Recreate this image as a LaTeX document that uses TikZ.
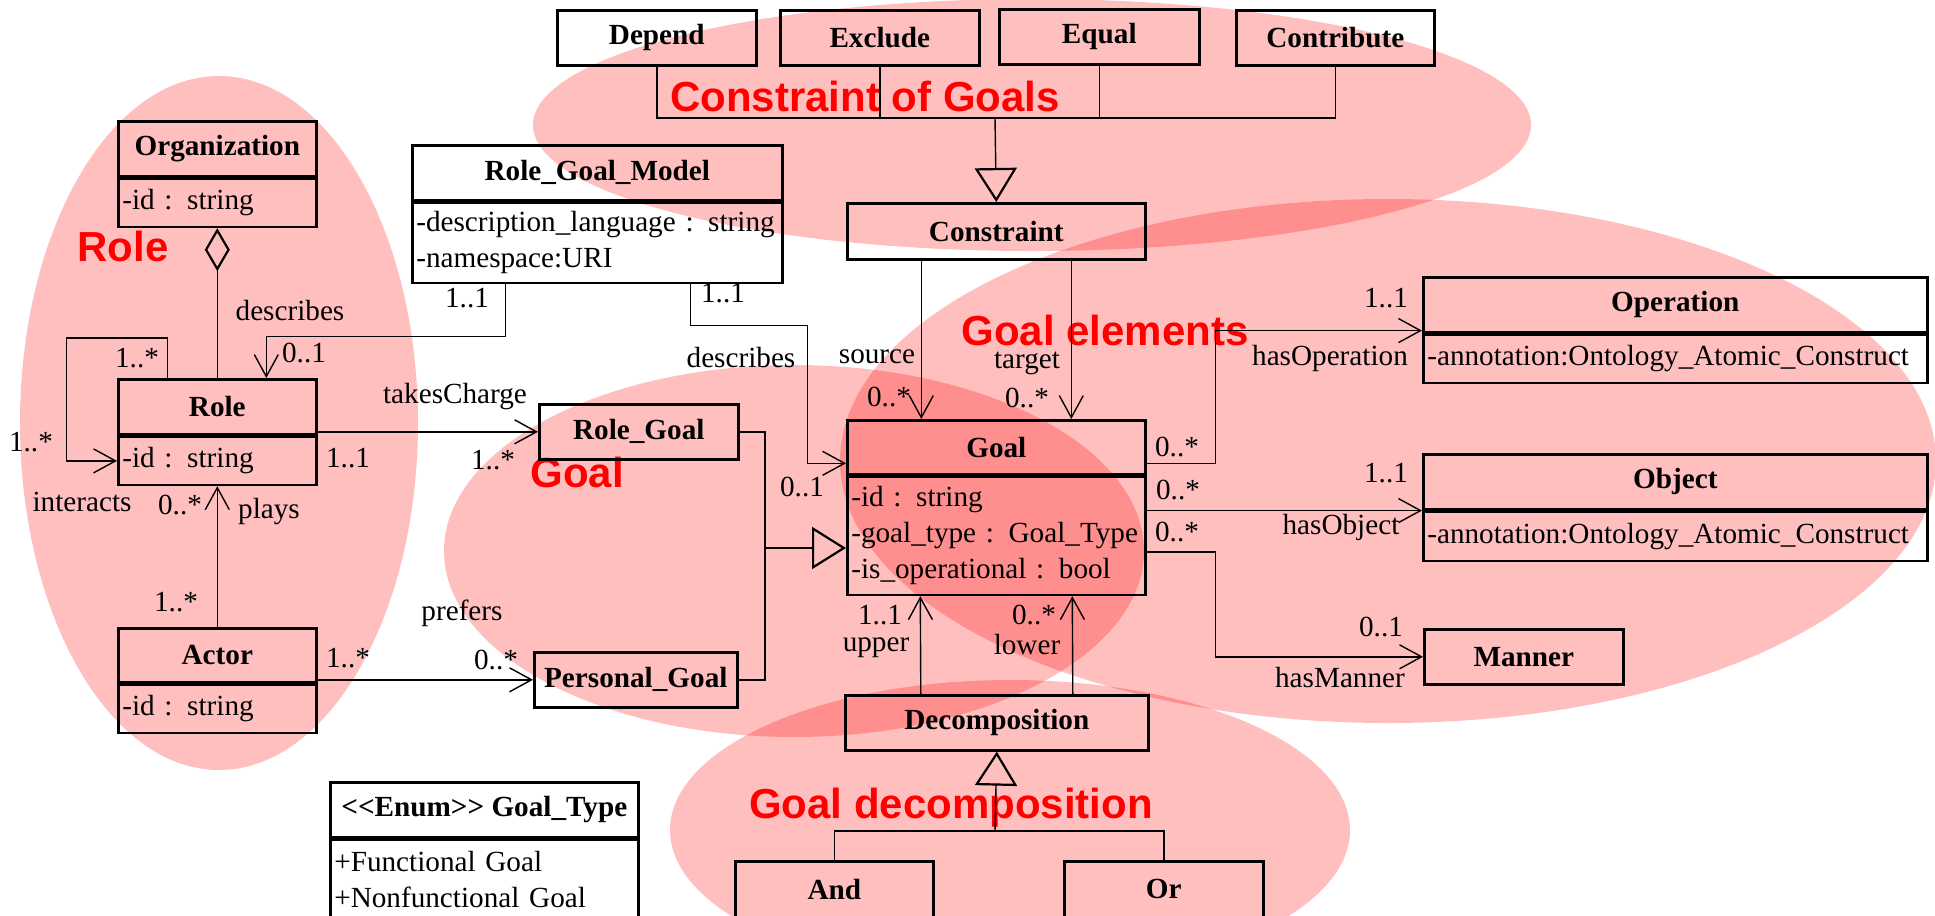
\documentclass[tikz,border=0pt]{standalone}
\usepackage{fontspec}
\setmainfont{Liberation Serif}
\newfontfamily\umlfont{Liberation Serif}
\newfontfamily\zonefont{Liberation Sans}
\usetikzlibrary{positioning,arrows.meta}

\begin{document}
\begin{tikzpicture}[x=0.5pt, y=-0.5pt,
  font=\umlfont\fontsize{14.6}{18}\selectfont,
  zone/.style={fill=red, fill opacity=0.25},
  zonelabel/.style={text=red, inner sep=0pt, font=\zonefont\bfseries\fontsize{21}{24}\selectfont},
  classbox/.style={draw, line width=1.3pt, inner xsep=2pt, inner ysep=0pt, minimum height=27.5pt, font=\umlfont\fontsize{14.6}{18}\selectfont\bfseries},
  attrbox/.style={draw, line width=1.3pt, inner xsep=2pt, inner ysep=0pt, align=left},
  lbl/.style={inner sep=0pt},
  conn/.style={line width=0.7pt},
  assoc/.style={conn, -{Straight Barb[length=11pt,width=12pt]}},
  gen/.style={conn, -{Triangle[open,length=17pt,width=21pt,line width=1.1pt]}},
  aggr/.style={conn, {Diamond[open,length=21.5pt,width=12.5pt,line width=1.1pt]}-}]
\useasboundingbox (0,0) rectangle (1935,916);

% Zones
\fill[zone] (219,423) ellipse [x radius=99.5pt, y radius=173.5pt];
\fill[zone] (1032,125) ellipse [x radius=249.5pt, y radius=63pt];
\fill[zone] (1388,461) ellipse [x radius=274pt, y radius=131pt];
\fill[zone] (794,551) ellipse [x radius=175pt, y radius=93pt];
\fill[zone] (1010,830) ellipse [x radius=170pt, y radius=75pt];
\node[zonelabel] (zrole) at (123,246) {Role};
\node[zonelabel] (zconstraint) at (865,96) {Constraint of Goals};
\node[zonelabel] (zelements) at (1105,330) {Goal elements};
\node[zonelabel] (zgoal) at (577,472) {Goal};
\node[zonelabel] (zdecomp) at (951,808) {Goal decomposition};

% Role part
\node[classbox, anchor=north west, minimum width=99pt] (org) at (117,120) {Organization};
\node[attrbox, below=0pt of org, text width=95pt, minimum height=24pt] (org-attr) {-id : string};
\node[classbox, anchor=north west, minimum width=99pt] (role) at (117,378) {Role};
\node[attrbox, below=0pt of role, text width=95pt, minimum height=24pt] (role-attr) {-id : string};
\node[classbox, anchor=north west, minimum width=99pt, minimum height=27pt] (actor) at (117,627) {Actor};
\node[attrbox, below=0pt of actor, text width=95pt, minimum height=24pt] (actor-attr) {-id : string};
\node[classbox, anchor=north west, minimum width=185pt] (rgm) at (411,144) {Role\_Goal\_Model};
\node[attrbox, below=0pt of rgm, text width=181pt, minimum height=40pt] (rgm-attr) {-description\_language : string\\-namespace:URI};
\node[classbox, anchor=north west, minimum width=154pt] (gtype) at (329,781) {\textless\kern0pt\textless Enum\textgreater\kern0pt\textgreater{} Goal\_Type};
\node[attrbox, below=0pt of gtype, text width=150pt, minimum height=39.5pt] (gtype-attr) {+Functional Goal\\+Nonfunctional Goal};

% Goal part
\node[classbox, anchor=north west, minimum width=99.5pt] (rolegoal) at (538,403) {Role\_Goal};
\node[classbox, anchor=north west, minimum width=101.5pt] (personalgoal) at (533,651) {Personal\_Goal};
\node[classbox, anchor=north west, minimum width=149pt, minimum height=27pt] (goal) at (846,419) {Goal};
\node[attrbox, below=0pt of goal, text width=145pt, minimum height=59pt] (goal-attr) {-id : string\\-goal\_type : Goal\_Type\\-is\_operational : bool};

% Constraint part
\node[classbox, anchor=north west, minimum width=99.5pt] (depend) at (556,9) {Depend};
\node[classbox, anchor=north west, minimum width=99.5pt] (exclude) at (779,9) {Exclude};
\node[classbox, anchor=north west, minimum width=100pt] (equal) at (998,8) {Equal};
\node[classbox, anchor=north west, minimum width=99pt] (contribute) at (1235,9) {Contribute};
\node[classbox, anchor=north west, minimum width=149pt, minimum height=28pt] (constraint) at (846,202) {Constraint};

% Goal elements
\node[classbox, anchor=north west, minimum width=252pt] (operation) at (1422,276) {Operation};
\node[attrbox, below=0pt of operation, text width=248pt, minimum height=24pt] (operation-attr) {-annotation:Ontology\_Atomic\_Construct};
\node[classbox, anchor=north west, minimum width=252pt] (object) at (1422,453) {Object};
\node[attrbox, below=0pt of object, text width=248pt, minimum height=24.5pt] (object-attr) {-annotation:Ontology\_Atomic\_Construct};
\node[classbox, anchor=north west, minimum width=99.5pt] (manner) at (1423,628) {Manner};

% Decomposition
\node[classbox, anchor=north west, minimum width=151.5pt] (decomp) at (844,694) {Decomposition};
\node[classbox, anchor=north west, minimum width=99pt, minimum height=28pt] (and) at (734,860) {And};
\node[classbox, anchor=north west, minimum width=99.5pt, minimum height=28pt] (or) at (1063,860) {Or};

% Connectors of the role part
\draw[aggr] (org-attr.south) -- (role.north);
\draw[assoc] ([xshift=-25pt]role.north) -- ++(0,-40) -- ++(-101,0) |- (role-attr.west);
\draw[assoc] ([xshift=-46pt]rgm-attr.south) -- ++(0,52) -| ([xshift=24.5pt]role.north);
\draw[assoc] (actor.north) -- (role-attr.south);
\draw[assoc] (rolegoal.west -| role.east) -- (rolegoal.west);
\draw[assoc] (personalgoal.west -| actor.east) -- (personalgoal.west);
\draw[assoc] ([xshift=46.5pt]rgm-attr.south) -- ++(0,41) -- ++(117,0) |- ([yshift=-8pt]goal.west);

% Generalizations
\coordinate (genjoin) at (765,548);
\draw[conn] (personalgoal.east) -| (genjoin);
\draw[gen] (rolegoal.east) -| (genjoin) -- (goal-attr.west |- genjoin);
\coordinate (cbus) at (995,118);
\draw[conn] (depend.south) |- (cbus);
\draw[conn] (contribute.south) |- (cbus);
\draw[conn] (exclude.south) -- (exclude.south |- cbus);
\draw[conn] (equal.south) -- (equal.south |- cbus);
\draw[gen] (cbus) -- (constraint.north);
\coordinate (dbus) at (995,831);
\draw[conn] (and.north) |- (dbus) -| (or.north);
\draw[gen] (dbus) -- (decomp.south);

% Connectors of the goal elements
\draw[assoc] ([xshift=-37.5pt]constraint.south) -- ([xshift=-37.5pt]goal.north);
\draw[assoc] ([xshift=37.5pt]constraint.south) -- ([xshift=37.5pt]goal.north);
\draw[assoc] ([yshift=-8pt]goal.east) -- ++(69,0) |- ([yshift=1.5pt]operation.south west);
\draw[assoc] (goal.east |- object.south west) -- (object.south west);
\draw[assoc] ([yshift=-8pt]goal-attr.east) -- ++(69,0) |- (manner.west);
\draw[assoc] ([xshift=-38pt]decomp.north) -- ([xshift=-38pt]goal-attr.south);
\draw[assoc] ([xshift=38pt]decomp.north) -- ([xshift=38pt]goal-attr.south);

% Labels
\node[lbl] (describes1) at (290,311) {describes};
\node[lbl] (m1) at (137,358) {1..*};
\node[lbl] (m2) at (31,442) {1..*};
\node[lbl] (interacts) at (82,502) {interacts};
\node[lbl] (m3) at (467,298) {1..1};
\node[lbl] (m4) at (304,353) {0..1};
\node[lbl] (m5) at (723,293) {1..1};
\node[lbl] (describes2) at (741,358) {describes};
\node[lbl] (m6) at (802,487) {0..1};
\node[lbl] (takescharge) at (455,397) {takesCharge};
\node[lbl] (m7) at (348,458) {1..1};
\node[lbl] (m8) at (493,460) {1..*};
\node[lbl] (m9) at (180,505) {0..*};
\node[lbl] (plays) at (269,512) {plays};
\node[lbl] (m10) at (176,602) {1..*};
\node[lbl] (m11) at (348,658) {1..*};
\node[lbl] (prefers) at (462,613) {prefers};
\node[lbl] (m12) at (496,660) {0..*};
\node[lbl] (source) at (877,357) {source};
\node[lbl] (m13) at (889,397) {0..*};
\node[lbl] (target) at (1027,363) {target};
\node[lbl] (m14) at (1027,398) {0..*};
\node[lbl] (m15) at (1177,447) {0..*};
\node[lbl] (m16) at (1386,298) {1..1};
\node[lbl] (hasoperation) at (1330,358) {hasOperation};
\node[lbl] (m17) at (1178,490) {0..*};
\node[lbl] (m18) at (1386,473) {1..1};
\node[lbl] (hasobject) at (1341,527) {hasObject};
\node[lbl] (m19) at (1177,532) {0..*};
\node[lbl] (m20) at (1381,627) {0..1};
\node[lbl] (hasmanner) at (1340,678) {hasManner};
\node[lbl] (m21) at (880,615) {1..1};
\node[lbl] (upper) at (876,648) {upper};
\node[lbl] (m22) at (1034,615) {0..*};
\node[lbl] (lower) at (1027,645) {lower};
\end{tikzpicture}
\end{document}
